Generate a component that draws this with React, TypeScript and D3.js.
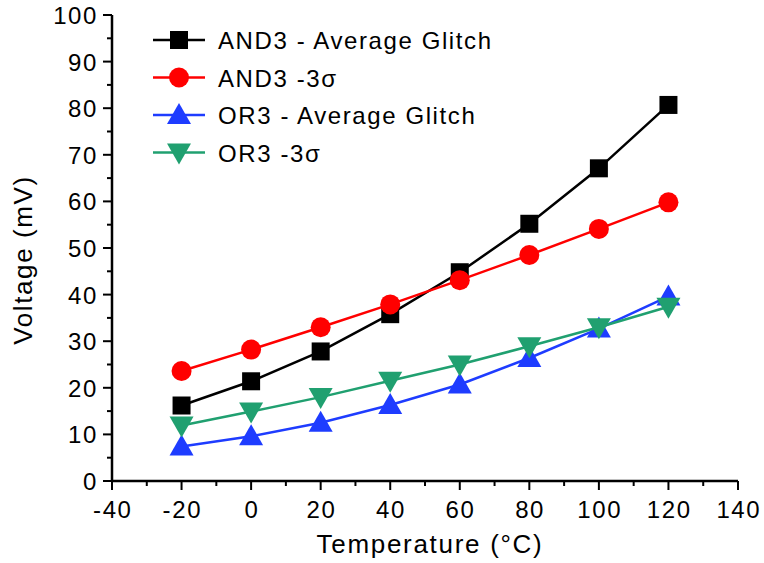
import React from "react";
import * as d3 from "d3";

// temperatures (°C)
const temps = [-20, 0, 20, 40, 60, 80, 100, 120];

// glitch voltage (mV)
const and3Avg = [16.2, 21.4, 27.8, 35.8, 44.8, 55.2, 67.1, 80.7];
const and3Sigma = [23.6, 28.2, 33.0, 37.9, 43.1, 48.5, 54.1, 59.8];
const or3Avg = [7.4, 9.6, 12.5, 16.3, 20.7, 26.4, 32.7, 39.6];
const or3Sigma = [11.9, 14.9, 18.0, 21.5, 25.0, 28.9, 33.0, 37.4];

const seriesNames = ["AND3 - Average Glitch", "AND3 -3σ", "OR3 - Average Glitch", "OR3 -3σ"];
const xTicks = [-40, -20, 0, 20, 40, 60, 80, 100, 120, 140];
const yTicks = [0, 10, 20, 30, 40, 50, 60, 70, 80, 90, 100];

const series = [
  { name: seriesNames[0], values: and3Avg, color: "#000000", symbol: "square" },
  { name: seriesNames[1], values: and3Sigma, color: "#ff0000", symbol: "circle" },
  { name: seriesNames[2], values: or3Avg, color: "#1e3cff", symbol: "up" },
  { name: seriesNames[3], values: or3Sigma, color: "#20a070", symbol: "down" },
];

const W = 764;
const H = 563;
const margin = { left: 112, right: 26, top: 15, bottom: 82 };
const font = "'Liberation Sans', Arial, sans-serif";

const Marker = ({ kind, x, y, color }: { kind: string; x: number; y: number; color: string }) => {
  if (kind === "square") return <rect x={x - 9} y={y - 9} width={18} height={18} fill={color} />;
  if (kind === "circle") return <circle cx={x} cy={y} r={10} fill={color} />;
  if (kind === "up")
    return <path d={`M${x},${y - 12}L${x + 12},${y + 9}L${x - 12},${y + 9}Z`} fill={color} />;
  return <path d={`M${x},${y + 12}L${x + 12},${y - 9}L${x - 12},${y - 9}Z`} fill={color} />;
};

export default function App() {
  const x = d3.scaleLinear().domain([-40, 140]).range([margin.left, W - margin.right]);
  const y = d3.scaleLinear().domain([0, 100]).range([H - margin.bottom, margin.top]);
  const line = d3
    .line<[number, number]>()
    .x(d => x(d[0]))
    .y(d => y(d[1]));

  const xMinor = d3.range(-30, 140, 20);
  const yMinor = d3.range(5, 100, 10);
  const x0 = x(-40);
  const y0 = y(0);

  return (
    <svg width={W} height={H} style={{ position: "absolute", left: 0, top: 0 }} fontFamily={font}>
      {/* axes */}
      <line x1={x0} x2={x(140)} y1={y0} y2={y0} stroke="#000" strokeWidth={2.5} />
      <line x1={x0} x2={x0} y1={y0} y2={y(100)} stroke="#000" strokeWidth={2.5} />
      {xTicks.map(t => (
        <g key={"x" + t}>
          <line x1={x(t)} x2={x(t)} y1={y0} y2={y0 + 9} stroke="#000" strokeWidth={2} />
          <text x={x(t) + 0.8} y={y0 + 37} textAnchor="middle" fontSize={24} letterSpacing={1.6}>
            {t}
          </text>
        </g>
      ))}
      {xMinor.map(t => (
        <line key={"xm" + t} x1={x(t)} x2={x(t)} y1={y0} y2={y0 + 5} stroke="#000" strokeWidth={2} />
      ))}
      {yTicks.map(t => (
        <g key={"y" + t}>
          <line x1={x0 - 9} x2={x0} y1={y(t)} y2={y(t)} stroke="#000" strokeWidth={2} />
          <text x={x0 - 14} y={y(t) + 9} textAnchor="end" fontSize={24} letterSpacing={1.6}>
            {t}
          </text>
        </g>
      ))}
      {yMinor.map(t => (
        <line key={"ym" + t} x1={x0 - 5} x2={x0} y1={y(t)} y2={y(t)} stroke="#000" strokeWidth={2} />
      ))}
      <text x={430} y={553} textAnchor="middle" fontSize={26} letterSpacing={1.7}>
        Temperature (°C)
      </text>
      <text
        transform={`translate(32,260) rotate(-90)`}
        textAnchor="middle"
        fontSize={26}
        letterSpacing={1.6}
      >
        Voltage (mV)
      </text>

      {/* series */}
      {series.map(s => {
        const pts = temps.map((t, i) => [t, s.values[i]] as [number, number]);
        return (
          <g key={s.name}>
            <path d={line(pts) || ""} fill="none" stroke={s.color} strokeWidth={2.5} />
            {pts.map(p => (
              <Marker key={p[0]} kind={s.symbol} x={x(p[0])} y={y(p[1])} color={s.color} />
            ))}
          </g>
        );
      })}

      {/* legend */}
      {series.map((s, i) => {
        const ly = 40 + i * 37.5;
        return (
          <g key={"lg" + s.name}>
            <line x1={153} x2={205} y1={ly} y2={ly} stroke={s.color} strokeWidth={2.5} />
            <Marker kind={s.symbol} x={179} y={ly} color={s.color} />
            <text x={218} y={ly + 9} fontSize={24} letterSpacing={1.6}>
              {s.name}
            </text>
          </g>
        );
      })}
    </svg>
  );
}
